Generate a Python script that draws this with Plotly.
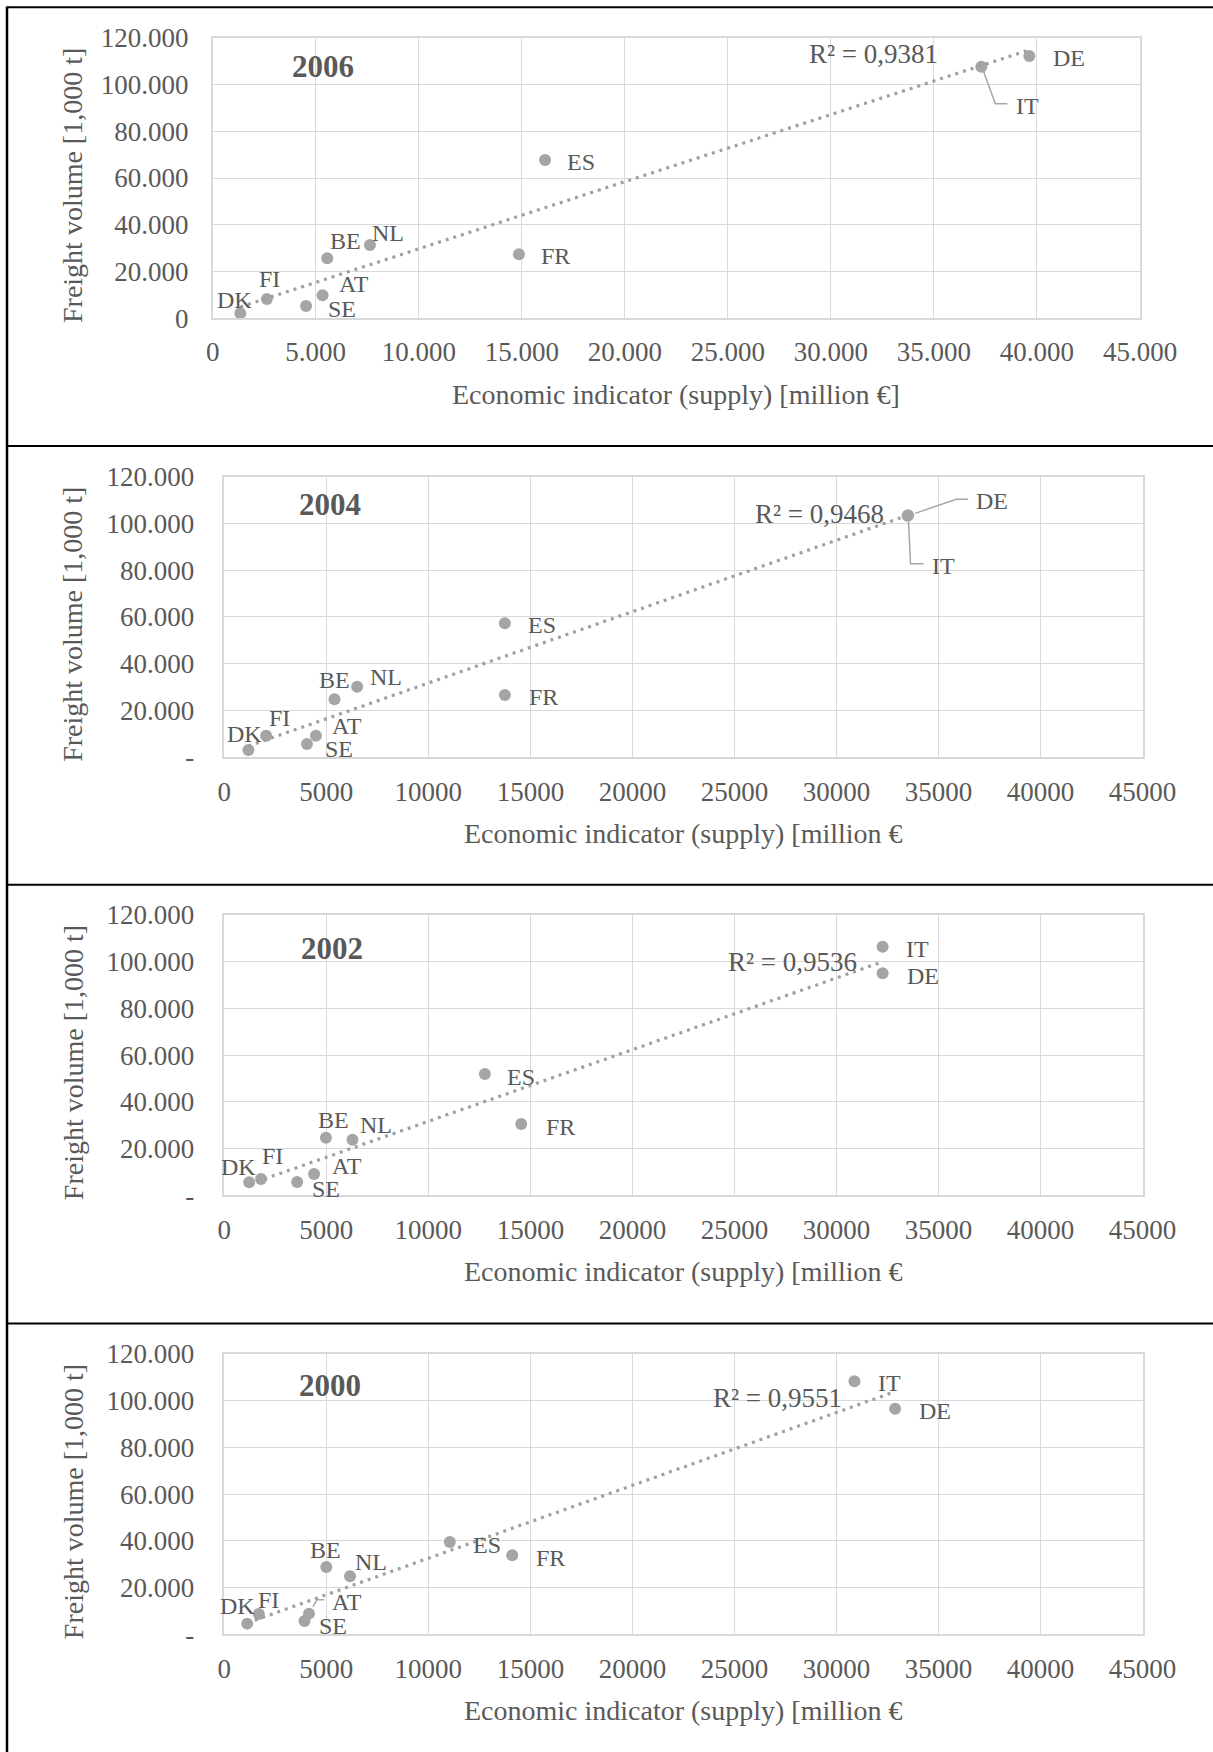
import numpy as np
import plotly.graph_objects as go

# ---------------- data ----------------
countries = ["DK", "FI", "SE", "AT", "BE", "NL", "FR", "ES", "IT", "DE"]
years = ["2006", "2004", "2002", "2000"]

x_2006 = [1340, 2630, 4530, 5330, 5560, 7630, 14860, 16130, 37300, 39630]
y_2006 = [2140, 8270, 5270, 9840, 25660, 31360, 27370, 67710, 107600, 112160]
x_2004 = [1180, 2050, 4050, 4490, 5400, 6510, 13750, 13750, 33480, 33510]
y_2004 = [3000, 9130, 5560, 9130, 24690, 30100, 26530, 57240, 103300, 103450]
x_2002 = [1220, 1800, 3570, 4400, 4980, 6280, 14550, 12770, 32260, 32260]
y_2002 = [5560, 6990, 5710, 9130, 24680, 23820, 30530, 51930, 106450, 95030]
x_2000 = [1120, 1690, 3930, 4150, 5000, 6160, 14110, 11050, 30880, 32870]
y_2000 = [4570, 8700, 5710, 8850, 28820, 24820, 33810, 39520, 108300, 96600]

r2_labels = ["R\u00b2 = 0,9381", "R\u00b2 = 0,9468", "R\u00b2 = 0,9536", "R\u00b2 = 0,9551"]

x_tickvals = [0, 5000, 10000, 15000, 20000, 25000, 30000, 35000, 40000, 45000]
x_ticktext_2006 = ["0", "5.000", "10.000", "15.000", "20.000", "25.000", "30.000", "35.000", "40.000", "45.000"]
x_ticktext_other = ["0", "5000", "10000", "15000", "20000", "25000", "30000", "35000", "40000", "45000"]
y_tickvals = [0, 20000, 40000, 60000, 80000, 100000, 120000]
y_ticktext_2006 = ["0", "20.000", "40.000", "60.000", "80.000", "100.000", "120.000"]
y_ticktext_other = ["-", "20.000", "40.000", "60.000", "80.000", "100.000", "120.000"]

x_title_2006 = "Economic indicator (supply) [million \u20ac]"
x_title_other = "Economic indicator (supply) [million \u20ac"
y_title = "Freight volume [1,000 t]"

xs = [x_2006, x_2004, x_2002, x_2000]
ys = [y_2006, y_2004, y_2002, y_2000]
xt = [x_ticktext_2006, x_ticktext_other, x_ticktext_other, x_ticktext_other]
yt = [y_ticktext_2006, y_ticktext_other, y_ticktext_other, y_ticktext_other]
xtitles = [x_title_2006, x_title_other, x_title_other, x_title_other]

# ---------------- styles / layout ----------------
W, H = 1213, 1752
FONT = "Liberation Serif"
TXT = "#595959"
GRID = "#d9d9d9"
MARK = "#a5a5a5"

# plot areas in pixels: left, right, top, bottom
areas = [
    (212.7, 1140.0, 37.7, 318.3),
    (224.3, 1142.6, 476.7, 757.0),
    (224.3, 1142.6, 915.0, 1195.3),
    (224.3, 1142.6, 1354.0, 1634.3),
]
y_standoff = [17, 23, 23, 23]
year_pos = [(322.8, 66.7), (330, 505), (332, 948), (330, 1385)]
r2_shift = [(-156, -4), (-89, 1), (-90, 0), (-118, -6)]

# label offsets (screen px, y down) per panel for each country
label_off = [
    {"DK": (-6, -13), "FI": (3, -20), "SE": (36, 3), "AT": (31, -11), "BE": (18, -17),
     "NL": (18, -12), "FR": (37, 2), "ES": (36, 2), "IT": (46, 39), "DE": (40, 2)},
    {"DK": (-4, -16), "FI": (13, -18), "SE": (32, 5), "AT": (31, -10), "BE": (0, -19),
     "NL": (29, -10), "FR": (39, 2), "ES": (37, 2), "IT": (36, 50), "DE": (84, -14)},
    {"DK": (-11, -15), "FI": (11, -23), "SE": (29, 7), "AT": (33, -8), "BE": (8, -18),
     "NL": (24, -15), "FR": (39, 3), "ES": (36, 3), "IT": (35, 2), "DE": (40, 3)},
    {"DK": (-10, -18), "FI": (10, -14), "SE": (28, 5), "AT": (38, -12), "BE": (-1, -17),
     "NL": (21, -14), "FR": (38, 3), "ES": (37, 3), "IT": (35, 2), "DE": (40, 2)},
]
# leader lines (screen px, y down) relative to the point
leaders = [
    {"IT": [(2, 4), (14, 37), (26, 37)]},
    {"DE": [(7, -2), (48, -16), (60, -16)], "IT": [(1, 6), (3, 48), (16, 48)]},
    {},
    {"AT": [(4, -7), (8, -14), (15, -14)]},
]


def fx(px):
    return px / W


def fy(py):
    return 1 - py / H


fig = go.Figure()
annotations = []
shapes = []
layout_axes = {}

for i in range(4):
    sfx = "" if i == 0 else str(i + 1)
    xa, ya = "x" + sfx, "y" + sfx
    l, r, t, b = areas[i]
    x = np.array(xs[i], dtype=float)
    y = np.array(ys[i], dtype=float)

    # scatter points
    fig.add_trace(go.Scatter(
        x=x, y=y, mode="markers", xaxis=xa, yaxis=ya,
        marker=dict(size=12, color=MARK, line=dict(width=0)),
        showlegend=False, hoverinfo="skip"))

    # linear trendline
    slope, intercept = np.polyfit(x, y, 1)
    tx = np.array([x.min(), x.max()])
    ty = slope * tx + intercept
    fig.add_trace(go.Scatter(
        x=tx, y=ty, mode="lines", xaxis=xa, yaxis=ya,
        line=dict(color="#a0a0a0", width=3.2, dash="3px,5px"),
        showlegend=False, hoverinfo="skip"))

    # R^2 label
    annotations.append(dict(
        x=tx[-1], y=ty[-1], xref=xa, yref=ya, text=r2_labels[i], showarrow=False,
        xshift=r2_shift[i][0], yshift=r2_shift[i][1],
        font=dict(family=FONT, size=27, color=TXT), xanchor="center", yanchor="middle"))

    # data labels
    for c, xv, yv in zip(countries, xs[i], ys[i]):
        dx, dy = label_off[i][c]
        annotations.append(dict(
            x=xv, y=yv, xref=xa, yref=ya, text=c, showarrow=False,
            xshift=dx, yshift=-dy, xanchor="center", yanchor="middle",
            font=dict(family=FONT, size=24, color=TXT)))
        if c in leaders[i]:
            pts = leaders[i][c]
            path = "M " + " L ".join(f"{px},{-py}" for px, py in pts)
            shapes.append(dict(
                type="path", xref=xa, yref=ya, xsizemode="pixel", ysizemode="pixel",
                xanchor=xv, yanchor=yv, path=path,
                line=dict(color="#a6a6a6", width=1.5)))

    # year label
    annotations.append(dict(
        x=fx(year_pos[i][0]), y=fy(year_pos[i][1]), xref="paper", yref="paper",
        text="<b>" + years[i] + "</b>", showarrow=False, xanchor="center", yanchor="middle",
        font=dict(family=FONT, size=31, color=TXT)))

    # axis titles
    annotations.append(dict(
        x=fx((l + r) / 2), y=fy(b + 76), xref="paper", yref="paper", text=xtitles[i],
        showarrow=False, xanchor="center", yanchor="middle",
        font=dict(family=FONT, size=28, color=TXT)))
    annotations.append(dict(
        x=fx(73), y=fy((t + b) / 2 + 8), xref="paper", yref="paper", text=y_title,
        showarrow=False, textangle=-90, xanchor="center", yanchor="middle",
        font=dict(family=FONT, size=28, color=TXT)))

    axis_common = dict(showgrid=True, gridcolor=GRID, gridwidth=1.3, zeroline=False,
                       showline=True, linecolor=GRID, linewidth=1.5, mirror=True,
                       ticks="", fixedrange=True, automargin=False,
                       tickfont=dict(family=FONT, size=27, color=TXT))
    layout_axes["xaxis" + sfx] = dict(
        axis_common, domain=[fx(l), fx(r)], range=[0, 45000], anchor=ya,
        tickmode="array", tickvals=x_tickvals, ticktext=xt[i],
        ticklabelstandoff=9 if i == 0 else 10)
    layout_axes["yaxis" + sfx] = dict(
        axis_common, domain=[fy(b), fy(t)], range=[0, 120000], anchor=xa,
        tickmode="array", tickvals=y_tickvals, ticktext=yt[i],
        ticklabelstandoff=y_standoff[i])

# table borders
BL = "black"
border_y = [7.3, 446.0, 884.7, 1323.5]
for by in border_y:
    shapes.append(dict(type="line", xref="paper", yref="paper",
                       x0=fx(7), x1=fx(1213), y0=fy(by), y1=fy(by),
                       line=dict(color=BL, width=2)))
shapes.append(dict(type="line", xref="paper", yref="paper",
                   x0=fx(7), x1=fx(7), y0=fy(6.5), y1=0,
                   line=dict(color=BL, width=2.5)))

fig.update_layout(
    width=W, height=H, autosize=False, margin=dict(l=0, r=0, t=0, b=0, pad=0, autoexpand=False),
    paper_bgcolor="white", plot_bgcolor="white",
    annotations=annotations, shapes=shapes, showlegend=False,
    font=dict(family=FONT, color=TXT),
    **layout_axes)

fig.write_html("out.html")
